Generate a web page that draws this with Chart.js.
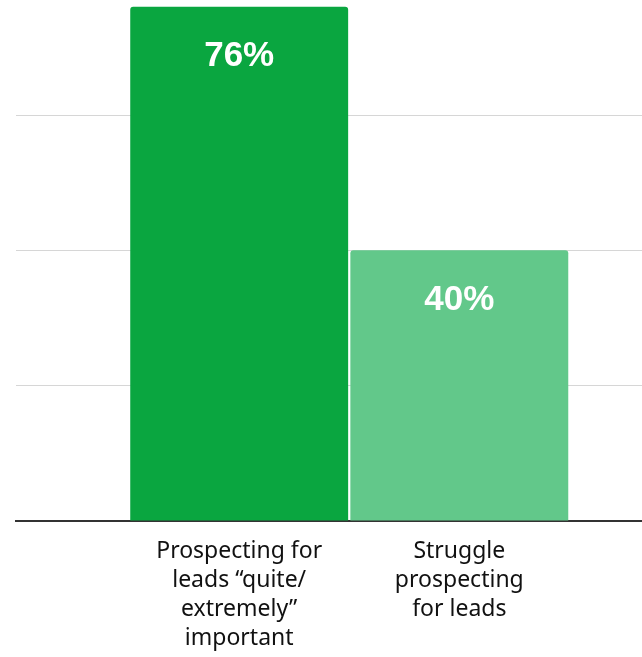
<!DOCTYPE html>
<html>
<head>
<meta charset="utf-8">
<script src="https://cdn.jsdelivr.net/npm/chart.js@4.4.1/dist/chart.umd.min.js"></script>
<style>
  html, body { margin: 0; padding: 0; background: #fff; }
  #wrap { width: 642px; height: 657px; }
</style>
</head>
<body>
<div id="wrap"><canvas id="chart"></canvas></div>
<script>
  // survey answers, one bar each
  const categories = [
    ['Prospecting for', 'leads \u201cquite/', 'extremely\u201d', 'important'],
    ['Struggle', 'prospecting', 'for leads'],
  ];
  const positions = [1, 2];
  const values = [76, 40];
  const valueLabels = ['76%', '40%'];
  const barColors = ['#0aa640', '#62c88a'];

  // white percentage inside the top of each bar
  const valueText = {
    id: 'valueText',
    afterDatasetsDraw(chart) {
      const ctx = chart.ctx;
      const meta = chart.getDatasetMeta(0);
      ctx.save();
      ctx.fillStyle = '#ffffff';
      ctx.font = 'bold 35px "Liberation Sans", Arial, sans-serif';
      ctx.textAlign = 'center';
      ctx.textBaseline = 'middle';
      meta.data.forEach((bar, i) => {
        ctx.fillText(valueLabels[i], bar.x, bar.y + 50);
      });
      ctx.restore();
    },
  };

  new Chart(document.getElementById('chart'), {
    type: 'bar',
    data: {
      datasets: [{
        data: positions.map((x, i) => ({ x, y: values[i] })),
        backgroundColor: barColors,
        borderRadius: 3,
        borderSkipped: 'bottom',
        barPercentage: 0.99,
        categoryPercentage: 1,
      }],
    },
    options: {
      responsive: true,
      maintainAspectRatio: false,
      animation: false,
      layout: { padding: 0 },
      plugins: { legend: { display: false }, tooltip: { enabled: false } },
      scales: {
        x: {
          type: 'linear',
          offset: false,
          min: -0.014,
          max: 2.83,
          afterBuildTicks: s => { s.ticks = positions.map(v => ({ value: v })); },
          afterFit: s => { s.height = 136; },
          grid: { display: false },
          border: { color: '#333333', width: 2 },
          ticks: {
            autoSkip: false,
            maxRotation: 0,
            padding: 8,
            color: '#111111',
            font: { family: '"Noto Sans", sans-serif', size: 23, lineHeight: 1.26 },
            callback: v => categories[positions.indexOf(v)] || '',
          },
        },
        y: {
          min: 0,
          max: 77,
          afterFit: s => { s.width = 16; },
          ticks: { stepSize: 20, display: false },
          border: { display: false },
          grid: {
            drawTicks: false,
            color: c => (c.tick.value > 0 && c.tick.value % 20 === 0 ? '#d6d6d6' : 'rgba(0,0,0,0)'),
          },
        },
      },
    },
    plugins: [valueText],
  });
</script>
</body>
</html>
